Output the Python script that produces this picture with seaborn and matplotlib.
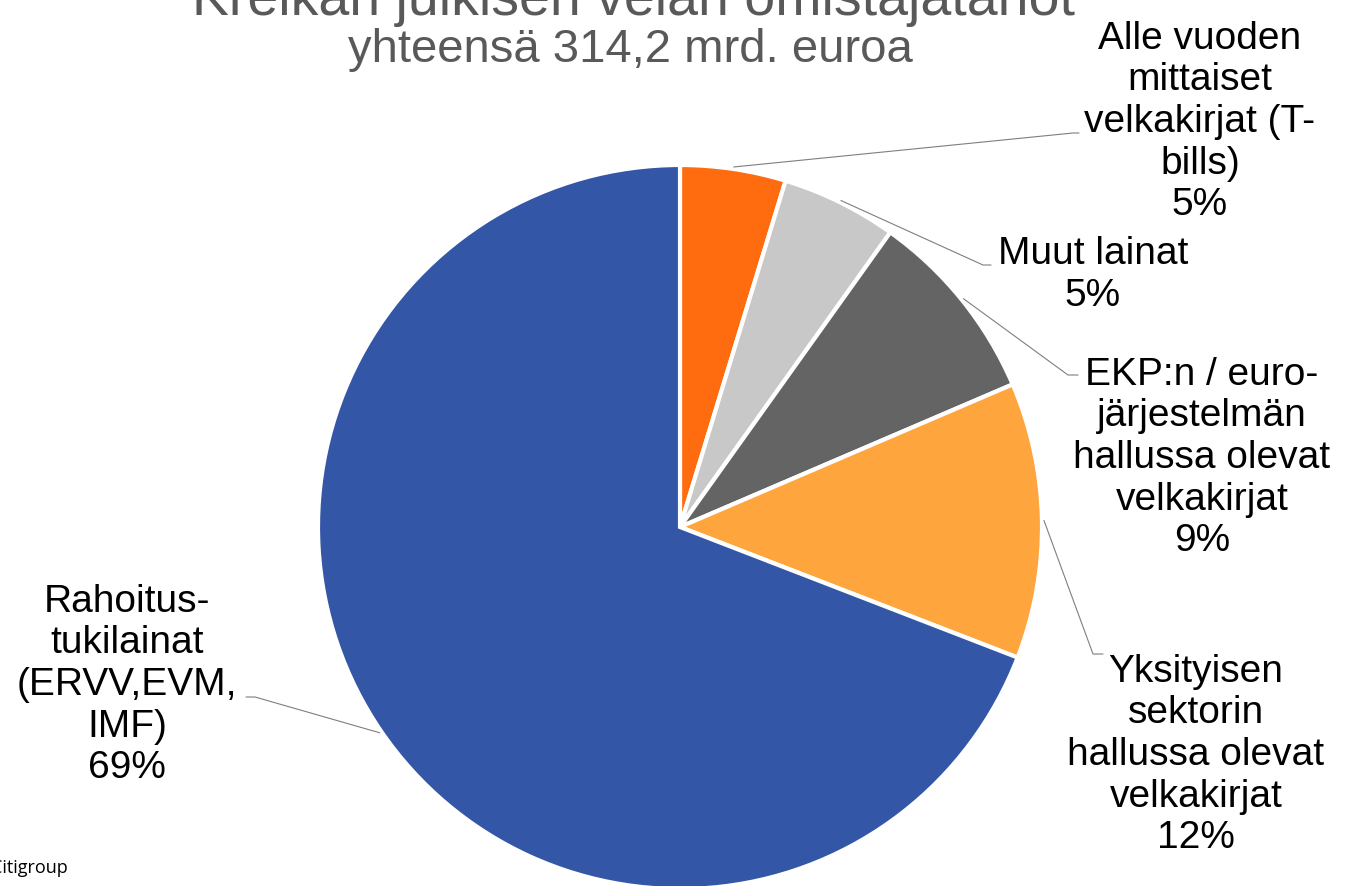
import numpy as np
import matplotlib
matplotlib.use("Agg")
import matplotlib.pyplot as plt
import seaborn as sns

# Kreikan julkisen velan omistajatahot, mrd. euroa (arvioitu kuvasta)
categories = [
    "Alle vuoden\nmittaiset\nvelkakirjat (T-\nbills)",
    "Muut lainat",
    "EKP:n / euro-\njärjestelmän\nhallussa olevat\nvelkakirjat",
    "Yksityisen\nsektorin\nhallussa olevat\nvelkakirjat",
    "Rahoitus-\ntukilainat\n(ERVV,EVM,\nIMF)",
]
values = [14.8, 16.2, 27.3, 38.7, 217.2]
colors = ["#FF6C10", "#C8C8C8", "#646464", "#FFA53D", "#3356A6"]

sns.set_style("white")
plt.rcParams["font.family"] = ["Liberation Sans", "DejaVu Sans"]

W, H = 1349, 886
fig = plt.figure(figsize=(W / 100, H / 100), dpi=100)
ax = fig.add_axes([0, 0, 1, 1])

cx, cy, r = 680, 527, 362
# y axis is inverted (pixel coords), so counterclock=True from -90 reads clockwise from the top
ax.pie(values, colors=colors, startangle=-90, counterclock=True,
       center=(cx, cy), radius=r, frame=True,
       wedgeprops=dict(edgecolor="white", linewidth=3))
ax.set_xlim(0, W)
ax.set_ylim(H, 0)
ax.set_aspect("equal")
ax.axis("off")

total = sum(values)
# label layout: (text x, text y, elbow x, elbow y, end x)
layout = [
    (1200, 122, 1073, 133, 1079),
    (1093, 275, 983, 265, 991),
    (1202, 458, 1068, 375, 1078),
    (1196, 755, 1093, 654, 1103),
    (127, 685, 255, 697, 246),
]

angles = []
start = 90.0
for v in values:
    span = 360.0 * v / total
    angles.append(start - span / 2)
    start -= span

for cat, v, ang, (tx, ty, ex, ey, ez) in zip(categories, values, angles, layout):
    px = cx + (r + 2) * np.cos(np.radians(ang))
    py = cy - (r + 2) * np.sin(np.radians(ang))
    ax.plot([px, ex, ez], [py, ey, ey], color="#7F7F7F", lw=0.8)
    ax.text(tx, ty, f"{cat}\n{v / total * 100:.0f}%", ha="center", va="center",
            fontsize=28, color="black", linespacing=1.2)

ax.text(633, 15, "Kreikan julkisen velan omistajatahot", ha="center", va="baseline",
        fontsize=40, color="#595959")
ax.text(630, 50, "yhteensä 314,2 mrd. euroa", ha="center", va="center",
        fontsize=34, color="#595959")
ax.text(68, 868, "Lähde: Citigroup", ha="right", va="center",
        fontsize=13, color="black", family=["Open Sans", "DejaVu Sans"])

fig.savefig("out.png", dpi=100)
